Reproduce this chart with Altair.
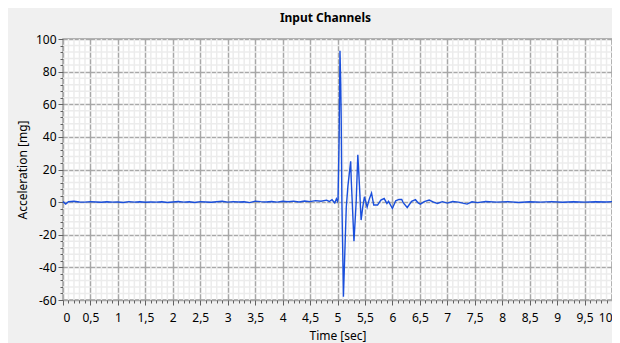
import altair as alt
import pandas as pd

# ---- data ----
time_s = [
    0.0, 0.05, 0.1, 0.2, 0.3, 0.4, 0.5, 0.6, 0.7, 0.8, 0.9,
    1.0, 1.1, 1.2, 1.3, 1.4, 1.5, 1.6, 1.7, 1.8, 1.9,
    2.0, 2.1, 2.2, 2.3, 2.4, 2.5, 2.6, 2.7, 2.8, 2.9,
    3.0, 3.1, 3.2, 3.3, 3.4, 3.5, 3.6, 3.7, 3.8, 3.9,
    4.0, 4.1, 4.2, 4.3, 4.4, 4.5, 4.6, 4.7, 4.8, 4.85, 4.9, 4.95, 4.98,
    5.0, 5.01, 5.03, 5.045, 5.058, 5.067, 5.08, 5.10, 5.108, 5.126, 5.16,
    5.19, 5.24, 5.25, 5.30, 5.34, 5.37, 5.40, 5.43, 5.46, 5.49, 5.54,
    5.58, 5.62, 5.66, 5.73, 5.79, 5.85, 5.90, 5.93, 6.00, 6.06, 6.12,
    6.17, 6.20, 6.27, 6.35, 6.42, 6.47, 6.51, 6.58, 6.67, 6.75, 6.82,
    6.91, 7.0, 7.1, 7.2, 7.36, 7.45, 7.55, 7.7, 7.9, 8.1, 8.3, 8.5,
    8.7, 8.9, 9.1, 9.3, 9.5, 9.7, 9.9, 10.0,
]
accel_mg = [
    0.3, -1.2, 0.2, 0.5, 0.1, 0.0, 0.3, 0.1, -0.1, 0.2, 0.0,
    0.1, -0.2, 0.3, 0.0, 0.2, -0.1, 0.1, 0.0, 0.2, -0.2,
    0.1, 0.4, 0.0, 0.2, -0.2, 0.3, 0.1, -0.1, 0.2, 0.5,
    0.0, 0.3, 0.1, 0.2, -0.3, 0.6, 0.3, 0.1, 0.4, 0.0,
    0.5, 0.2, 0.6, 0.1, 0.7, 0.3, 0.9, 0.5, 1.2, 0.4, 1.5, -0.5, 2.0,
    0.5, 2.0, 40.0, 92.8, 74.0, 52.8, 0.0, -40.0, -58.0, -39.0, -3.0,
    10.0, 25.0, 14.0, -24.0, 0.0, 29.0, 10.0, -11.0, -3.0, 3.3, -3.0,
    2.0, 5.5, -1.8, -1.8, 1.2, 2.2, -0.8, 0.5, -3.9, 0.8, 1.7,
    1.6, -0.5, -3.3, 0.5, 1.5, -0.5, -1.2, 0.3, 1.3, 0.0, -0.8,
    0.3, -0.6, 0.4, 0.0, -1.2, 0.2, -0.3, 0.4, 0.0, 0.3, -0.2, 0.2,
    0.0, 0.3, -0.1, 0.2, 0.0, 0.2, 0.1, 0.3,
]

x_major = [k / 2 for k in range(21)]
x_minor = [k / 10 for k in range(101) if k % 5]
y_major = list(range(-60, 101, 20))
y_minor = [v for v in range(-60, 101, 4) if v % 20]

FONT = "Noto Sans"

df = pd.DataFrame({"t": time_s, "a": accel_mg})
mx = pd.DataFrame({"t": x_minor})
my = pd.DataFrame({"a": y_minor})

xscale = alt.Scale(domain=[0, 10], nice=False, zero=False)
yscale = alt.Scale(domain=[-60, 100], nice=False, zero=False)

minor_x = alt.Chart(mx).mark_rule(color="#ececec", strokeWidth=1.5).encode(
    x=alt.X("t:Q", scale=xscale,
            axis=alt.Axis(values=x_minor, labels=False, grid=False, domain=False,
                          tickSize=3, tickColor="#606060", title=None, orient="bottom"))
)
minor_y = alt.Chart(my).mark_rule(color="#ececec", strokeWidth=1.5).encode(
    y=alt.Y("a:Q", scale=yscale,
            axis=alt.Axis(values=y_minor, labels=False, grid=False, domain=False,
                          tickSize=3, tickColor="#606060", title=None, orient="left"))
)

line = alt.Chart(df).mark_line(color="#1a4fdc", strokeWidth=1.4).encode(
    x=alt.X("t:Q", scale=xscale,
            axis=alt.Axis(values=x_major, title="Time [sec]", orient="bottom",
                          format="~g", labelOverlap=False,
                          labelExpr="replace(datum.label, '.', ',')",
                          grid=True, gridColor="#a8a8a8", gridWidth=1.5,
                          domain=False, tickSize=5, tickColor="#606060",
                          labelFont=FONT, labelFontSize=12, labelColor="#000000",
                          labelPadding=7, titleFont=FONT, titleFontSize=12,
                          titleFontWeight="normal", titleColor="#000000", titlePadding=7)),
    y=alt.Y("a:Q", scale=yscale,
            axis=alt.Axis(values=y_major, title="Acceleration [mg]", orient="left",
                          format="d", labelOverlap=False,
                          labelExpr="replace(datum.label, '\u2212', '-')",
                          grid=True, gridColor="#a8a8a8", gridWidth=1.5,
                          domain=False, tickSize=5, tickColor="#606060",
                          labelFont=FONT, labelFontSize=12, labelColor="#000000",
                          labelPadding=2, titleFont=FONT, titleFontSize=12,
                          titleFontWeight="normal", titleColor="#000000", titlePadding=6)),
)

chart = (
    alt.layer(minor_x, minor_y, line)
    .resolve_axis(x="independent", y="independent")
    .properties(
        width=549,
        height=261,
        title=alt.TitleParams("Input Channels", font=FONT, fontSize=12, fontWeight="bold",
                              anchor="middle", offset=8, dx=-12, color="#000000"),
        background="#f0f0f0",
        autosize=alt.AutoSizeParams(type="none"),
        padding={"left": 55, "top": 31, "right": 0, "bottom": 44},
    )
    .configure_view(fill="#ffffff", stroke="#a0a0a0", strokeWidth=1.5)
)

chart.save("out.html", embed_options={"renderer": "svg", "actions": False})
